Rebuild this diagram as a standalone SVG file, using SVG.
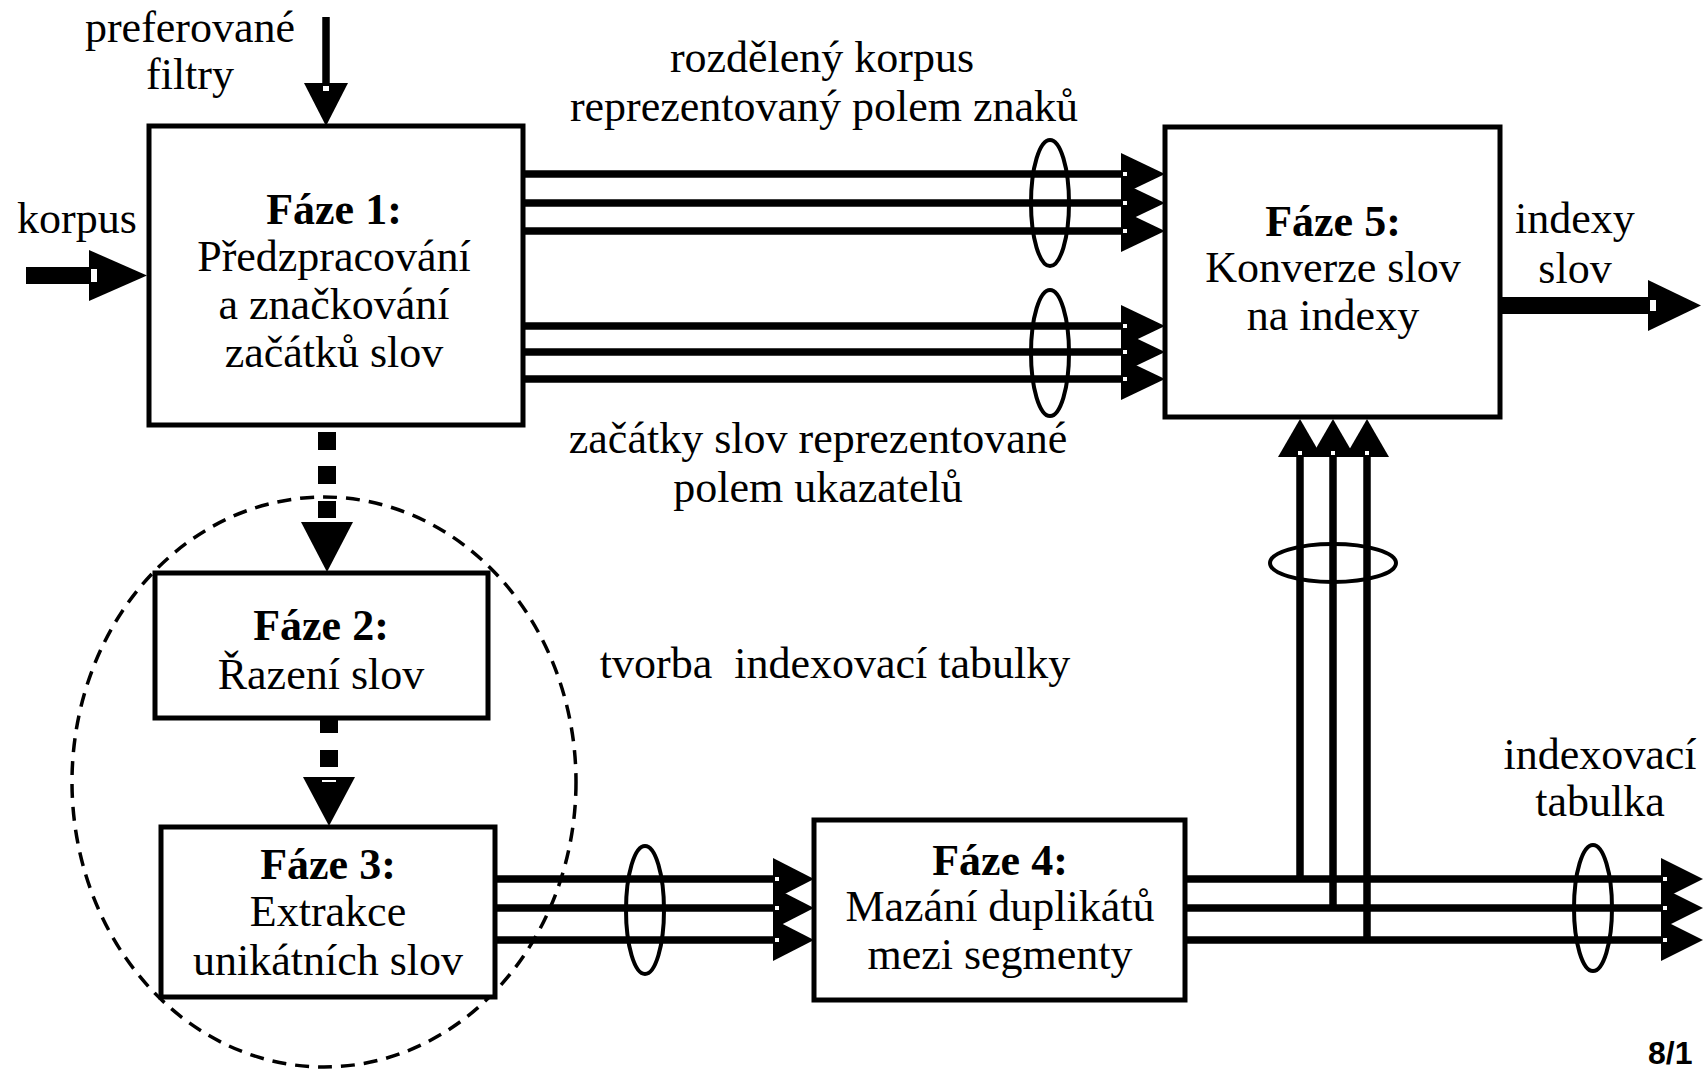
<svg xmlns="http://www.w3.org/2000/svg" width="1704" height="1071" viewBox="0 0 1704 1071">
  <style>
    text { font-family: "Liberation Serif", "Times New Roman", serif; font-size: 44px; fill: #000; text-anchor: middle; }
    .b { font-weight: bold; }
    .box { fill: #fff; stroke: #000; stroke-width: 5; }
    .wire { stroke: #000; stroke-width: 7.5; fill: none; }
    .head { fill: #000; }
    .nick { fill: #fff; }
    .ring { fill: none; stroke: #000; stroke-width: 4; }
    .zone { fill: none; stroke: #000; stroke-width: 3.5; stroke-dasharray: 14 9; }
    .page { font-family: "Liberation Sans", Arial, sans-serif; font-weight: bold; font-size: 32px; text-anchor: start; }
  </style>
  <rect width="1704" height="1071" fill="#fff"/>

  <!-- dashed boundary around phases 2 and 3 -->
  <ellipse class="zone" cx="324" cy="782" rx="252" ry="285"/>

  <g id="connectors">
    <!-- inputs to phase 1 -->
    <line class="wire" x1="326" y1="17" x2="326" y2="84"/>
    <polygon class="head" points="304,83 348,83 326,126"/>
    <rect class="nick" x="323" y="86" width="6" height="5"/>

    <rect x="26" y="267" width="64" height="17" fill="#000"/>
    <polygon class="head" points="89,250 147,275.5 89,301"/>
    <rect class="nick" x="91" y="269" width="6" height="13"/>

    <!-- phase 1 to phase 5: character array -->
    <line class="wire" x1="523" y1="174" x2="1122" y2="174"/>
    <line class="wire" x1="523" y1="203" x2="1122" y2="203"/>
    <line class="wire" x1="523" y1="231" x2="1122" y2="231"/>
    <polygon class="head" points="1121,153 1165,174 1121,195"/>
    <polygon class="head" points="1121,182 1165,203 1121,224"/>
    <polygon class="head" points="1121,210 1165,231 1121,252"/>
    <rect class="nick" x="1123" y="172" width="4" height="4"/>
    <rect class="nick" x="1123" y="201" width="4" height="4"/>
    <rect class="nick" x="1123" y="229" width="4" height="4"/>
    <ellipse class="ring" cx="1050" cy="203" rx="19" ry="63"/>

    <!-- phase 1 to phase 5: pointer array -->
    <line class="wire" x1="523" y1="326" x2="1122" y2="326"/>
    <line class="wire" x1="523" y1="352" x2="1122" y2="352"/>
    <line class="wire" x1="523" y1="379" x2="1122" y2="379"/>
    <polygon class="head" points="1121,305 1165,326 1121,347"/>
    <polygon class="head" points="1121,331 1165,352 1121,373"/>
    <polygon class="head" points="1121,358 1165,379 1121,400"/>
    <rect class="nick" x="1123" y="324" width="4" height="4"/>
    <rect class="nick" x="1123" y="350" width="4" height="4"/>
    <rect class="nick" x="1123" y="377" width="4" height="4"/>
    <ellipse class="ring" cx="1050" cy="353" rx="19" ry="63"/>

    <!-- phase 5 output -->
    <rect x="1500" y="297" width="149" height="17" fill="#000"/>
    <polygon class="head" points="1648,280 1701,305.5 1648,331"/>
    <rect class="nick" x="1650" y="300" width="6" height="11"/>

    <!-- phase 1 to phase 2 (dashed) -->
    <rect x="318" y="432" width="18" height="18" fill="#000"/>
    <rect x="318" y="466" width="18" height="18" fill="#000"/>
    <rect x="318" y="501" width="18" height="17" fill="#000"/>
    <polygon class="head" points="301,522 353,522 327,572"/>

    <!-- phase 2 to phase 3 (dashed) -->
    <rect x="320" y="719" width="18" height="14" fill="#000"/>
    <rect x="320" y="750" width="18" height="17" fill="#000"/>
    <polygon class="head" points="303,777 355,777 329,826"/>
    <rect class="nick" x="322" y="780" width="14" height="2"/>

    <!-- phase 3 to phase 4 -->
    <line class="wire" x1="495" y1="879" x2="774" y2="879"/>
    <line class="wire" x1="495" y1="908" x2="774" y2="908"/>
    <line class="wire" x1="495" y1="940" x2="774" y2="940"/>
    <polygon class="head" points="773,858 814,879 773,900"/>
    <polygon class="head" points="773,887 814,908 773,929"/>
    <polygon class="head" points="773,919 814,940 773,961"/>
    <rect class="nick" x="775" y="877" width="4" height="4"/>
    <rect class="nick" x="775" y="906" width="4" height="4"/>
    <rect class="nick" x="775" y="938" width="4" height="4"/>
    <ellipse class="ring" cx="645" cy="910" rx="19" ry="64"/>

    <!-- phase 4 output: index table -->
    <line class="wire" x1="1185" y1="879" x2="1662" y2="879"/>
    <line class="wire" x1="1185" y1="908" x2="1662" y2="908"/>
    <line class="wire" x1="1185" y1="940" x2="1662" y2="940"/>
    <polygon class="head" points="1661,858 1703,879 1661,900"/>
    <polygon class="head" points="1661,887 1703,908 1661,929"/>
    <polygon class="head" points="1661,919 1703,940 1661,961"/>
    <rect class="nick" x="1663" y="877" width="4" height="4"/>
    <rect class="nick" x="1663" y="906" width="4" height="4"/>
    <rect class="nick" x="1663" y="938" width="4" height="4"/>
    <ellipse class="ring" cx="1593" cy="908" rx="19" ry="63"/>

    <!-- index table fed up into phase 5 -->
    <line class="wire" x1="1300" y1="882" x2="1300" y2="456"/>
    <line class="wire" x1="1333" y1="911" x2="1333" y2="456"/>
    <line class="wire" x1="1367" y1="943" x2="1367" y2="456"/>
    <polygon class="head" points="1278,457 1300,419 1322,457"/>
    <polygon class="head" points="1311,457 1333,419 1355,457"/>
    <polygon class="head" points="1345,457 1367,419 1389,457"/>
    <rect class="nick" x="1298" y="451" width="4" height="4"/>
    <rect class="nick" x="1331" y="451" width="4" height="4"/>
    <rect class="nick" x="1365" y="451" width="4" height="4"/>
    <ellipse class="ring" cx="1333" cy="563" rx="63" ry="19"/>

    <!-- connector labels -->
    <text x="190" y="42">preferované</text>
    <text x="190" y="89">filtry</text>
    <text x="77" y="233">korpus</text>
    <text x="822" y="72">rozdělený korpus</text>
    <text x="824" y="121">reprezentovaný polem znaků</text>
    <text x="818" y="453">začátky slov reprezentované</text>
    <text x="818" y="502">polem ukazatelů</text>
    <text x="835" y="678" xml:space="preserve">tvorba  indexovací tabulky</text>
    <text x="1575" y="233">indexy</text>
    <text x="1575" y="283">slov</text>
    <text x="1600" y="769">indexovací</text>
    <text x="1600" y="816">tabulka</text>
  </g>

  <g id="phase1">
    <rect class="box" x="149" y="126" width="374" height="299"/>
    <text class="b" x="334" y="224">Fáze 1:</text>
    <text x="334" y="271">Předzpracování</text>
    <text x="334" y="319">a značkování</text>
    <text x="334" y="367">začátků slov</text>
  </g>

  <g id="phase2">
    <rect class="box" x="155" y="573" width="333" height="145"/>
    <text class="b" x="321" y="640">Fáze 2:</text>
    <text x="321" y="689">Řazení slov</text>
  </g>

  <g id="phase3">
    <rect class="box" x="161" y="827" width="334" height="170"/>
    <text class="b" x="328" y="879">Fáze 3:</text>
    <text x="328" y="926">Extrakce</text>
    <text x="328" y="975">unikátních slov</text>
  </g>

  <g id="phase4">
    <rect class="box" x="814" y="820" width="371" height="180"/>
    <text class="b" x="1000" y="875">Fáze 4:</text>
    <text x="1000" y="921">Mazání duplikátů</text>
    <text x="1000" y="969">mezi segmenty</text>
  </g>

  <g id="phase5">
    <rect class="box" x="1165" y="127" width="335" height="290"/>
    <text class="b" x="1333" y="236">Fáze 5:</text>
    <text x="1333" y="282">Konverze slov</text>
    <text x="1333" y="330">na indexy</text>
  </g>

  <text class="page" x="1648" y="1064">8/1</text>
</svg>
